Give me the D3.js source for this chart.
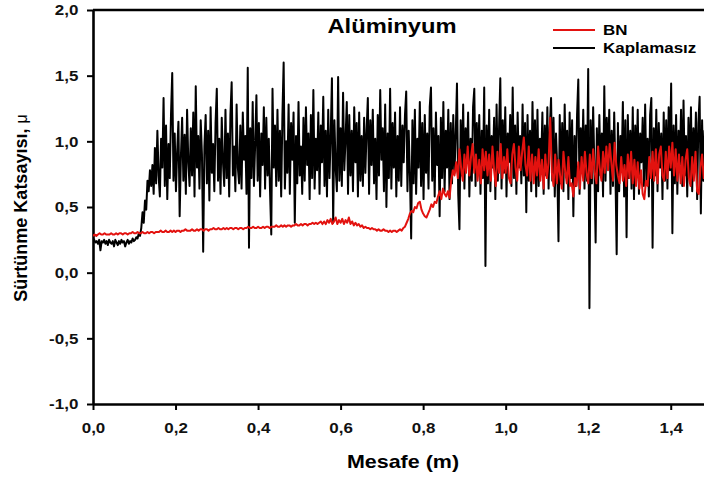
<!DOCTYPE html>
<html>
<head>
<meta charset="utf-8">
<script src="https://cdn.jsdelivr.net/npm/d3@7.8.5/dist/d3.min.js"></script>
<style>
    body { margin: 0; background: #fff; }
    svg { display: block; font-family: "Liberation Sans", Arial, sans-serif; }
</style>
</head>
<body>
<div id="chart"></div>
<script>
// Sampling step of each recording along the sliding distance (m)
const stepKaplamasiz = 0.003;
const stepBN = 0.004;

// Friction coefficient, uncoated sample
const kaplamasiz = [
    0.26,0.25,0.23,0.24,0.22,0.25,0.17,0.24,0.23,0.25,
    0.22,0.24,0.21,0.25,0.23,0.22,0.24,0.20,0.25,0.23,
    0.21,0.24,0.22,0.25,0.23,0.24,0.20,0.23,0.25,0.22,
    0.24,0.23,0.26,0.24,0.25,0.27,0.26,0.30,0.28,0.34,
    0.46,0.38,0.55,0.48,0.70,0.62,0.78,0.66,0.82,0.60,
    0.95,0.68,1.08,0.74,0.58,1.02,0.80,1.33,0.66,1.12,
    0.56,0.98,0.72,1.20,1.52,0.70,1.06,0.62,0.92,1.15,
    0.43,0.88,1.18,0.70,1.05,0.60,1.24,0.84,0.66,1.10,
    0.74,1.22,0.58,1.42,0.80,1.04,0.64,1.16,0.90,0.16,
    0.96,1.20,0.68,1.08,0.55,1.26,0.76,0.98,0.62,1.14,
    1.40,0.70,1.02,0.60,1.18,0.84,0.66,1.24,0.72,1.06,
    0.58,1.20,1.45,0.74,0.96,0.62,1.28,0.80,0.68,1.12,
    0.64,1.22,0.86,1.04,0.60,1.56,0.19,1.10,0.72,1.30,
    0.66,0.98,1.35,0.70,1.14,0.58,1.06,0.82,1.26,0.64,
    1.18,0.74,1.02,0.62,0.29,1.40,0.80,1.12,0.66,1.24,
    0.70,1.08,0.58,1.20,1.60,0.64,1.00,0.76,1.28,0.60,
    1.14,0.86,1.22,0.38,1.04,0.68,1.30,0.74,0.96,0.60,
    1.18,0.70,1.26,0.82,1.06,0.56,1.20,0.72,1.39,0.64,
    1.02,0.78,1.22,0.60,1.12,0.84,1.34,0.66,1.08,0.58,
    1.24,0.72,1.04,1.48,0.38,1.16,0.80,0.62,1.49,0.70,
    1.10,0.66,1.37,0.78,1.02,1.30,0.60,1.20,0.74,1.08,
    0.62,1.26,0.84,1.14,0.58,1.22,0.70,1.04,0.66,1.18,
    0.76,1.08,1.33,0.60,1.16,0.82,1.24,0.68,1.02,0.56,
    1.20,0.74,1.39,0.86,1.10,0.62,1.28,0.50,1.06,0.72,
    1.40,0.64,1.14,0.80,1.22,0.58,1.04,0.70,1.26,0.66,
    1.12,0.84,1.20,1.38,0.62,1.08,0.74,0.26,1.16,0.68,
    1.24,0.60,1.02,0.80,1.30,0.66,1.14,0.56,1.20,0.76,
    1.06,0.64,1.26,1.41,0.70,1.10,0.58,1.22,0.82,1.04,
    0.43,1.18,0.72,1.30,0.62,1.08,0.80,1.24,0.56,1.14,
    0.68,1.20,0.76,1.06,1.44,0.60,0.33,1.16,0.74,1.28,
    0.64,1.10,0.84,1.22,0.58,1.02,0.70,1.26,1.40,0.66,
    1.14,0.78,1.20,0.60,1.08,0.72,1.41,0.05,1.12,0.68,
    1.24,0.62,1.04,0.80,1.18,0.56,1.28,0.70,1.10,1.48,
    0.64,1.16,0.76,1.26,0.58,1.06,0.84,1.20,0.66,1.41,
    0.72,1.12,0.60,1.22,0.80,1.04,0.68,1.28,0.74,1.14,
    0.46,1.20,0.70,1.08,0.62,1.30,0.78,1.16,0.58,1.24,
    0.66,1.02,0.82,1.22,0.60,1.12,0.74,1.26,0.64,1.10,
    1.33,0.70,1.18,0.58,1.06,0.80,0.24,1.20,0.68,1.14,
    0.62,1.28,0.76,1.08,0.56,1.22,0.72,1.16,0.43,1.04,
    0.66,1.20,1.47,0.60,1.10,0.78,1.24,0.64,1.12,0.70,
    1.55,-0.27,1.16,0.68,1.26,0.80,0.23,1.10,0.62,1.20,
    0.74,1.06,0.58,1.42,0.70,1.18,0.82,1.24,0.60,1.08,
    0.66,1.22,0.76,0.14,1.14,0.62,1.04,0.80,1.30,0.58,
    1.16,0.27,1.20,0.72,1.08,0.64,1.26,0.56,1.12,0.78,
    1.24,0.60,1.06,0.84,1.18,0.66,1.28,0.70,1.02,0.58,
    1.20,1.33,0.19,1.10,0.74,1.24,0.62,1.14,0.80,1.06,
    0.56,1.22,0.70,1.16,0.64,1.26,0.78,1.44,0.30,1.12,
    0.68,1.20,0.60,1.08,0.82,1.24,0.66,1.31,0.74,1.04,
    0.58,1.18,0.72,1.26,0.62,1.10,0.80,1.22,0.56,1.14,
    1.34,0.45,1.16,0.70,1.08,0.64,1.24,0.76,1.12,0.68
];

// Friction coefficient, BN coated sample
const bn = [
    0.28,0.29,0.28,0.29,0.30,0.29,0.29,0.30,0.29,0.29,
    0.29,0.30,0.29,0.29,0.30,0.29,0.30,0.30,0.29,0.30,
    0.30,0.29,0.30,0.30,0.31,0.30,0.30,0.31,0.30,0.30,
    0.31,0.30,0.30,0.31,0.30,0.31,0.31,0.30,0.31,0.31,
    0.31,0.32,0.31,0.31,0.32,0.31,0.31,0.32,0.31,0.32,
    0.31,0.32,0.32,0.31,0.32,0.32,0.33,0.32,0.32,0.32,
    0.33,0.32,0.32,0.33,0.32,0.33,0.33,0.32,0.33,0.33,
    0.32,0.33,0.33,0.34,0.33,0.33,0.34,0.33,0.33,0.34,
    0.33,0.34,0.33,0.34,0.34,0.33,0.34,0.34,0.33,0.34,
    0.34,0.33,0.34,0.34,0.35,0.34,0.34,0.35,0.34,0.34,
    0.35,0.34,0.34,0.35,0.34,0.35,0.35,0.34,0.35,0.35,
    0.35,0.36,0.35,0.35,0.36,0.35,0.36,0.35,0.36,0.36,
    0.35,0.36,0.36,0.37,0.36,0.36,0.37,0.36,0.37,0.37,
    0.36,0.37,0.37,0.38,0.37,0.38,0.37,0.38,0.39,0.37,
    0.39,0.37,0.40,0.38,0.41,0.37,0.39,0.42,0.37,0.40,
    0.38,0.41,0.37,0.40,0.38,0.42,0.37,0.39,0.36,0.38,
    0.36,0.37,0.35,0.36,0.34,0.35,0.34,0.34,0.33,0.34,
    0.33,0.33,0.32,0.33,0.32,0.32,0.33,0.32,0.32,0.31,
    0.32,0.31,0.32,0.32,0.31,0.32,0.33,0.32,0.34,0.35,
    0.38,0.41,0.45,0.47,0.46,0.50,0.49,0.53,0.54,0.48,
    0.45,0.43,0.42,0.45,0.48,0.52,0.50,0.54,0.53,0.58,
    0.62,0.56,0.64,0.60,0.58,0.62,0.57,0.70,0.78,0.74,
    0.84,0.72,0.94,0.80,0.70,0.90,0.76,0.96,0.74,0.88,
    0.98,0.76,0.90,0.70,0.86,0.68,0.94,0.78,0.92,0.74,
    0.90,0.70,0.96,0.78,0.66,0.92,0.76,0.98,0.72,0.88,
    0.76,0.94,0.72,0.68,0.90,0.98,0.80,0.70,0.96,0.78,
    0.92,1.03,0.82,0.74,0.96,0.70,0.90,0.68,0.88,0.74,
    0.94,0.70,0.86,0.64,0.90,0.72,0.84,1.18,0.76,0.66,
    0.90,0.68,0.86,0.74,0.64,0.92,0.78,0.68,0.88,0.66,
    0.68,0.58,0.72,0.66,0.84,0.64,0.88,0.70,0.92,0.76,
    0.68,0.90,0.72,0.94,0.76,0.68,0.96,0.80,0.70,0.92,
    0.76,0.96,0.78,0.98,0.84,0.70,0.99,0.82,0.74,0.68,
    0.88,0.70,0.82,0.66,0.90,0.72,0.92,0.68,0.86,0.66,
    0.84,0.64,0.78,0.60,0.56,0.70,0.66,0.88,0.72,0.92,
    0.70,0.94,0.68,0.90,0.96,0.74,0.70,0.92,0.72,0.96,
    0.80,0.99,0.74,0.94,0.70,0.90,0.68,0.88,0.66,0.86,
    0.94,0.72,0.66,0.88,0.70,0.92,0.62,0.60,0.80,0.90,
    0.72,0.84,0.76
];

const xTicks = [0, 0.2, 0.4, 0.6, 0.8, 1.0, 1.2, 1.4];
const yTicks = [-1.0, -0.5, 0.0, 0.5, 1.0, 1.5, 2.0];
const legendItems = [
    { name: 'BN', color: '#e3120f' },
    { name: 'Kaplamasız', color: '#000' }
];

const width = 704;
const height = 478;
const textStretch = 1.13; // the picture is a little wider than it is tall

const svg = d3.select('#chart').append('svg')
    .attr('width', width)
    .attr('height', height);

const x = d3.scaleLinear().domain([0, 1.5]).range([93, 712]);
const y = d3.scaleLinear().domain([-1, 2]).range([404, 10]);

const comma = d3.formatLocale({ decimal: ',', thousands: '.', grouping: [3], currency: ['', ''], minus: '-' }).format('.1f');

// Axes
const xAxis = svg.append('g')
    .attr('transform', `translate(0,${y(-1)})`)
    .call(d3.axisBottom(x).tickValues(xTicks).tickFormat(comma).tickSize(6).tickPadding(12).tickSizeOuter(0));

const yAxis = svg.append('g')
    .attr('transform', `translate(${x(0)},0)`)
    .call(d3.axisLeft(y).tickValues(yTicks).tickFormat(comma).tickSize(6).tickPadding(7).tickSizeOuter(0));

[xAxis, yAxis].forEach(ax => {
    ax.select('.domain').attr('stroke', '#000').attr('stroke-width', 2.6);
    ax.selectAll('.tick line').attr('stroke', '#000').attr('stroke-width', 2);
    ax.selectAll('.tick text')
        .attr('fill', '#111')
        .style('font-size', '15px')
        .style('font-weight', 'bold')
        .attr('transform', `scale(${textStretch},1)`);
});

// Top frame line
svg.append('line')
    .attr('x1', x(0)).attr('x2', width)
    .attr('y1', y(2)).attr('y2', y(2))
    .attr('stroke', '#000')
    .attr('stroke-width', 2.6);

// Data lines
svg.append('clipPath').attr('id', 'plot-clip')
    .append('rect')
    .attr('x', x(0)).attr('y', y(2))
    .attr('width', x(1.5) - x(0)).attr('height', y(-1) - y(2));

const line = d3.line().x(d => x(d.x)).y(d => y(d.y));
const plot = svg.append('g').attr('clip-path', 'url(#plot-clip)');

plot.append('path')
    .datum(kaplamasiz.map((v, i) => ({ x: i * stepKaplamasiz, y: v })))
    .attr('fill', 'none')
    .attr('stroke', '#000')
    .attr('stroke-width', 2)
    .attr('stroke-linejoin', 'round')
    .attr('d', line);

plot.append('path')
    .datum(bn.map((v, i) => ({ x: i * stepBN, y: v })))
    .attr('fill', 'none')
    .attr('stroke', legendItems[0].color)
    .attr('stroke-width', 2)
    .attr('stroke-linejoin', 'round')
    .attr('d', line);

// Title
svg.append('text')
    .attr('transform', `translate(392,33) scale(${textStretch},1)`)
    .attr('text-anchor', 'middle')
    .style('font-size', '21px')
    .style('font-weight', 'bold')
    .text('Alüminyum');

// Legend
const legend = svg.selectAll('.legend')
    .data(legendItems)
    .enter()
    .append('g')
    .attr('class', 'legend')
    .attr('transform', (d, i) => `translate(553,${30 + i * 18})`);

legend.append('line')
    .attr('x1', 0).attr('x2', 42)
    .attr('stroke', d => d.color)
    .attr('stroke-width', 2);

legend.append('text')
    .attr('transform', `translate(50,5) scale(${textStretch},1)`)
    .style('font-size', '15px')
    .style('font-weight', 'bold')
    .text(d => d.name);

// Axis titles
svg.append('text')
    .attr('transform', `translate(403,468) scale(${textStretch},1)`)
    .attr('text-anchor', 'middle')
    .style('font-size', '19px')
    .style('font-weight', 'bold')
    .text('Mesafe (m)');

const yLabel = svg.append('text')
    .attr('transform', 'translate(27,208) rotate(-90)')
    .attr('text-anchor', 'middle')
    .style('font-size', '18px')
    .style('font-weight', 'bold');
yLabel.append('tspan').text('Sürtünme Katsayısı, ');
yLabel.append('tspan').style('font-weight', 'normal').style('font-size', '16px').text('μ');
</script>
</body>
</html>
